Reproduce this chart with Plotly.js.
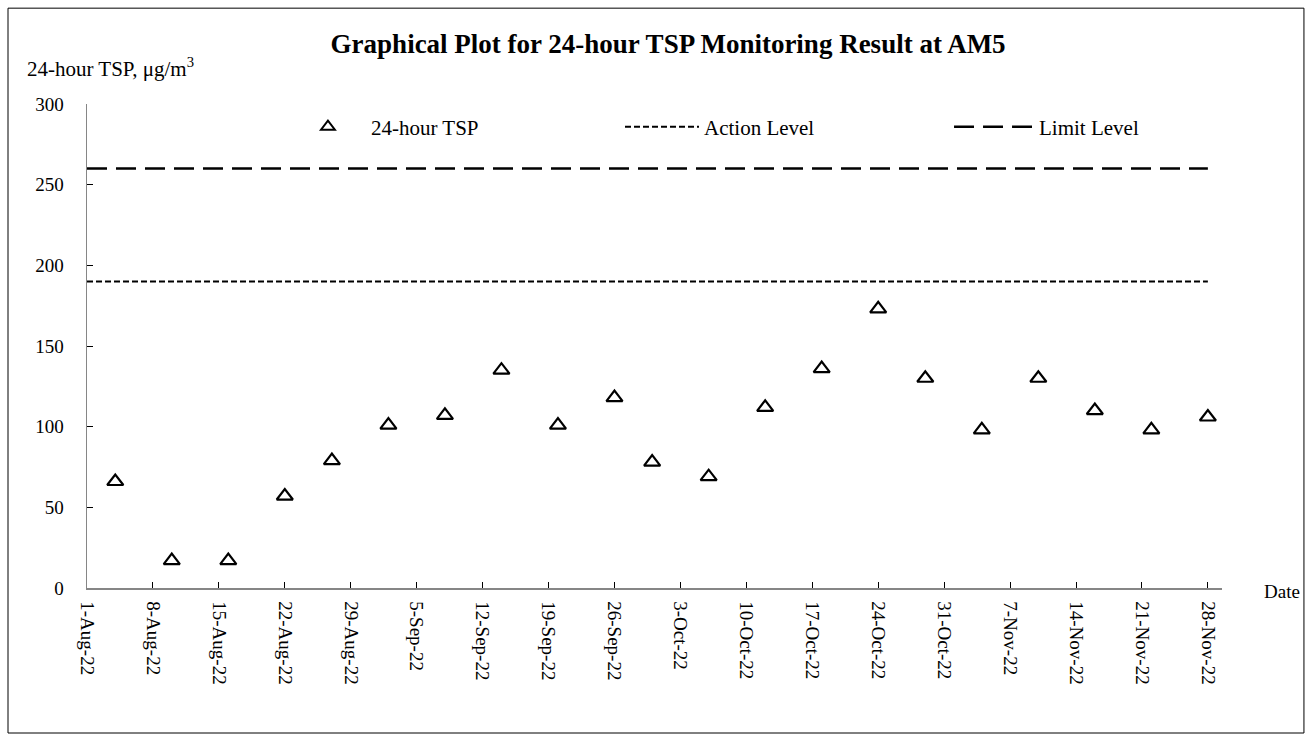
<!DOCTYPE html>
<html>
<head>
<meta charset="utf-8">
<script src="https://cdn.plot.ly/plotly-3.0.1.min.js"></script>
<style>
html,body{margin:0;padding:0;background:#fff;}
#chart{width:1314px;height:742px;}
</style>
</head>
<body>
<div id="chart"></div>
<script>
// ---- data ----
const sampleDates = ['2022-08-04','2022-08-10','2022-08-16','2022-08-22','2022-08-27','2022-09-02','2022-09-08',
  '2022-09-14','2022-09-20','2022-09-26','2022-09-30','2022-10-06','2022-10-12','2022-10-18',
  '2022-10-24','2022-10-29','2022-11-04','2022-11-10','2022-11-16','2022-11-22','2022-11-28'];
const tspValues = [66,17,17,57,79,101,107,135,101,118,78,69,112,136,173,130,98,130,110,98,106];
const levelDates = ['2022-08-01','2022-11-28'];
const actionLevel = [190,190];
const limitLevel = [260,260];
const tickDates = ['2022-08-01','2022-08-08','2022-08-15','2022-08-22','2022-08-29','2022-09-05','2022-09-12',
  '2022-09-19','2022-09-26','2022-10-03','2022-10-10','2022-10-17','2022-10-24','2022-10-31',
  '2022-11-07','2022-11-14','2022-11-21','2022-11-28'];
const tickLabels = ['1-Aug-22','8-Aug-22','15-Aug-22','22-Aug-22','29-Aug-22','5-Sep-22','12-Sep-22',
  '19-Sep-22','26-Sep-22','3-Oct-22','10-Oct-22','17-Oct-22','24-Oct-22','31-Oct-22',
  '7-Nov-22','14-Nov-22','21-Nov-22','28-Nov-22'];
const yTicks = [0,50,100,150,200,250,300];

const FONT = 'Liberation Serif, Times New Roman, serif';

const traces = [
  {x: sampleDates, y: tspValues, name: '24-hour TSP', type: 'scatter', mode: 'markers', legend: 'legend',
   marker: {symbol: 'triangle-up-open', size: 14, color: '#000', line: {width: 2.2, color: '#000'}}},
  {x: levelDates, y: actionLevel, name: 'Action Level', type: 'scatter', mode: 'lines', legend: 'legend2',
   line: {color: '#000', width: 2, dash: '6px,3px'}},
  {x: levelDates, y: limitLevel, name: 'Limit Level', type: 'scatter', mode: 'lines', legend: 'legend3',
   line: {color: '#000', width: 2.5, dash: '20px,9px'}}
];

function legendBox(x, iw, sizing) {
  return {orientation: 'h', x: x, xanchor: 'left', y: 0.9525, yanchor: 'middle',
    bgcolor: 'rgba(0,0,0,0)', borderwidth: 0, itemwidth: iw, itemsizing: sizing,
    font: {family: FONT, size: 21, color: '#000'}, itemclick: false};
}

const layout = {
  width: 1314, height: 742,
  margin: {l: 87, r: 92, t: 104, b: 154, pad: 0},
  paper_bgcolor: '#fff', plot_bgcolor: '#fff',
  font: {family: FONT, size: 19, color: '#000'},
  showlegend: true,
  title: {text: '<b>Graphical Plot for 24-hour TSP Monitoring Result at AM5</b>',
    font: {family: FONT, size: 27, color: '#000'},
    xref: 'paper', x: 0.512, xanchor: 'center', yref: 'container', y: 0.941, yanchor: 'middle'},
  legend: legendBox(0.1744, 76, 'constant'),
  legend2: legendBox(0.4696, 74, 'trace'),
  legend3: legendBox(0.7595, 80, 'trace'),
  xaxis: {type: 'date', range: ['2022-08-01', '2022-11-29 12:00'],
    tickmode: 'array', tickvals: tickDates, ticktext: tickLabels, tickangle: 90,
    ticks: 'inside', ticklen: 6, tickcolor: '#000', tickwidth: 1,
    showline: true, linecolor: '#868686', linewidth: 1.5, showgrid: false, zeroline: false,
    ticklabelstandoff: 8, tickfont: {family: FONT, size: 19, color: '#000'}},
  yaxis: {range: [0, 300], tickmode: 'array', tickvals: yTicks,
    ticks: 'inside', ticklen: 6, tickcolor: '#000', tickwidth: 1,
    showline: true, linecolor: '#868686', linewidth: 1.5, showgrid: false, zeroline: false,
    ticklabelstandoff: 18, tickfont: {family: FONT, size: 19, color: '#000'}},
  annotations: [
    {text: '24-hour TSP, μg/m<sup>3</sup>', xref: 'paper', yref: 'paper', x: -0.0546, y: 1.076,
     xanchor: 'left', yanchor: 'middle', showarrow: false, font: {family: FONT, size: 21, color: '#000'}},
    {text: 'Date', xref: 'paper', yref: 'paper', x: 1.035, y: -0.008,
     xanchor: 'left', yanchor: 'middle', showarrow: false, font: {family: FONT, size: 19, color: '#000'}}
  ],
  shapes: [
    {type: 'rect', xref: 'paper', yref: 'paper', x0: -0.0696, x1: 1.0722, y0: -0.2996, y1: 1.198,
     line: {color: '#000', width: 1}, fillcolor: 'rgba(0,0,0,0)'}
  ]
};

Plotly.newPlot('chart', traces, layout, {displayModeBar: false, staticPlot: true});
</script>
</body>
</html>
